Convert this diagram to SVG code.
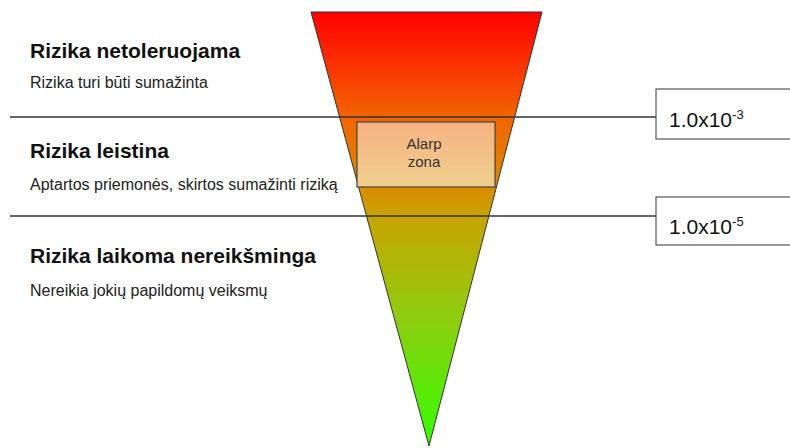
<svg xmlns="http://www.w3.org/2000/svg" width="790" height="448" viewBox="0 0 790 448">
<defs>
<linearGradient id="tri" x1="0" y1="12" x2="0" y2="446" gradientUnits="userSpaceOnUse">
<stop offset="0" stop-color="#ff0000"/>
<stop offset="0.24" stop-color="#f26400"/>
<stop offset="0.40" stop-color="#dc8a00"/>
<stop offset="0.47" stop-color="#c8a400"/>
<stop offset="0.7" stop-color="#90cc10"/>
<stop offset="1" stop-color="#33ff00"/>
</linearGradient>
<linearGradient id="alarp" x1="0" y1="0" x2="0" y2="1">
<stop offset="0" stop-color="#f5b283"/>
<stop offset="1" stop-color="#efd08e"/>
</linearGradient>
</defs>
<style>
.h{font-family:"Liberation Sans",Arial,sans-serif;font-weight:bold;font-size:21px;fill:#111}
.s{font-family:"Liberation Sans",Arial,sans-serif;font-size:16px;fill:#222}
.v{font-family:"Liberation Sans",Arial,sans-serif;font-size:21px;fill:#111}
.sup{font-size:13px}
.a{font-family:"Liberation Sans",Arial,sans-serif;font-size:15px;fill:#333;text-anchor:middle}
.ln{stroke:#333;stroke-width:1.5;fill:none}
.bx{fill:#fff;stroke:#555;stroke-width:1.2}
</style>
<g id="triangle">
<polygon points="311,12 542,12 429,446" fill="url(#tri)" stroke="#333" stroke-width="1"/>
</g>
<g id="alarp-zone">
<rect x="357" y="122" width="138" height="65" fill="url(#alarp)" stroke="#444" stroke-width="1.2"/>
<text class="a" x="424" y="149">Alarp</text>
<text class="a" x="424" y="167">zona</text>
</g>
<g id="connectors">
<line class="ln" x1="10" y1="117" x2="656" y2="117"/>
<line class="ln" x1="10" y1="216" x2="656" y2="216"/>
</g>
<g id="box-1e-3">
<rect class="bx" x="656" y="89" width="140" height="50"/>
<text class="v" x="669" y="127">1.0x10<tspan class="sup" dy="-8">-3</tspan></text>
</g>
<g id="box-1e-5">
<rect class="bx" x="656" y="197" width="140" height="48"/>
<text class="v" x="669" y="234">1.0x10<tspan class="sup" dy="-8">-5</tspan></text>
</g>
<g id="zone-netoleruojama">
<text class="h" x="30" y="58">Rizika netoleruojama</text>
<text class="s" x="30" y="88">Rizika turi būti sumažinta</text>
</g>
<g id="zone-leistina">
<text class="h" x="30" y="158">Rizika leistina</text>
<text class="s" x="30" y="190">Aptartos priemonės, skirtos sumažinti riziką</text>
</g>
<g id="zone-nereiksminga">
<text class="h" x="30" y="263">Rizika laikoma nereikšminga</text>
<text class="s" x="30" y="296">Nereikia jokių papildomų veiksmų</text>
</g>
</svg>
